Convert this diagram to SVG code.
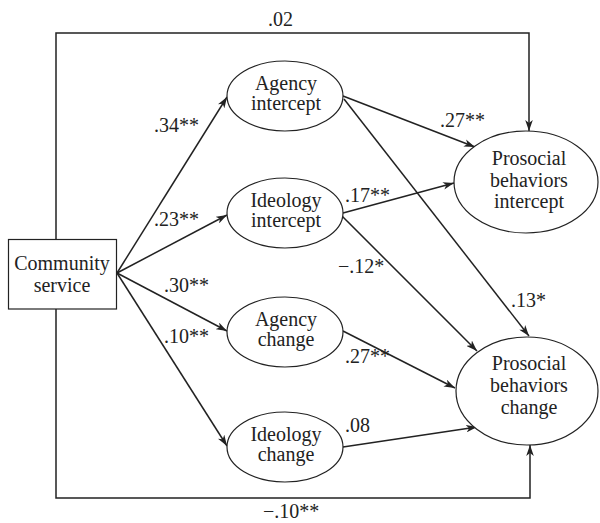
<svg xmlns="http://www.w3.org/2000/svg" width="600" height="523" viewBox="0 0 600 523">
<style>
svg text, text.t{font-family:'Liberation Serif',serif !important;font-size:20px;fill:#222}
.c{text-anchor:middle}
.n{fill:#fff;stroke:#222;stroke-width:1.2}
.e{fill:none;stroke:#222;stroke-width:1.5;marker-end:url(#ah)}
</style>
<defs>
<marker id="ah" viewBox="-11 -4 11 8" refX="0" refY="0" markerWidth="11" markerHeight="8" markerUnits="userSpaceOnUse" orient="auto">
<path d="M0,0 L-11,-3.8 L-8,0 L-11,3.8 Z" fill="#222"/>
</marker>
</defs>
<rect width="600" height="523" fill="#fff"/>
<g font-family="Liberation Serif">
<g id="connectors">
<polyline class="e" points="56,239 56,33 529,33 529,131"/>
<polyline class="e" points="56,309 56,498 530,498 530,445"/>
<line class="e" x1="117" y1="273" x2="227" y2="97"/>
<line class="e" x1="117" y1="273" x2="227" y2="215"/>
<line class="e" x1="117" y1="273" x2="227" y2="331"/>
<line class="e" x1="117" y1="273" x2="227" y2="446"/>
<line class="e" x1="343" y1="96" x2="475" y2="147"/>
<line class="e" x1="344" y1="99" x2="529" y2="336"/>
<line class="e" x1="343" y1="213" x2="454" y2="183"/>
<line class="e" x1="342" y1="216" x2="477" y2="351"/>
<line class="e" x1="343" y1="331" x2="455" y2="388"/>
<line class="e" x1="343" y1="447" x2="477" y2="427"/>
</g>
<g id="labels">
<text class="t" x="268" y="26">.02</text>
<text class="t" x="154" y="132">.34**</text>
<text class="t" x="154" y="226">.23**</text>
<text class="t" x="164" y="292">.30**</text>
<text class="t" x="164" y="343">.10**</text>
<text class="t" x="440" y="127">.27**</text>
<text class="t" x="345" y="202">.17**</text>
<text class="t" x="338" y="273">−.12*</text>
<text class="t" x="511" y="307">.13*</text>
<text class="t" x="345" y="363">.27**</text>
<text class="t" x="345" y="432">.08</text>
<text class="t" x="263" y="518">−.10**</text>
</g>
<g id="community-service">
<rect class="n" x="8.5" y="239.5" width="108" height="69.5"/>
<text class="t c" x="62" y="270">Community</text>
<text class="t c" x="62" y="292">service</text>
</g>
<g id="agency-intercept">
<ellipse class="n" cx="285" cy="96" rx="58" ry="35"/>
<text class="t c" x="286" y="90">Agency</text>
<text class="t c" x="286" y="110">intercept</text>
</g>
<g id="ideology-intercept">
<ellipse class="n" cx="285" cy="213" rx="58" ry="35"/>
<text class="t c" x="286" y="207">Ideology</text>
<text class="t c" x="286" y="227">intercept</text>
</g>
<g id="agency-change">
<ellipse class="n" cx="285" cy="332" rx="58" ry="35"/>
<text class="t c" x="286" y="326">Agency</text>
<text class="t c" x="286" y="346">change</text>
</g>
<g id="ideology-change">
<ellipse class="n" cx="285" cy="447" rx="58" ry="35"/>
<text class="t c" x="286" y="441">Ideology</text>
<text class="t c" x="286" y="461">change</text>
</g>
<g id="prosocial-intercept">
<ellipse class="n" cx="526" cy="182" rx="72" ry="51"/>
<text class="t c" x="529" y="165">Prosocial</text>
<text class="t c" x="529" y="187">behaviors</text>
<text class="t c" x="529" y="208">intercept</text>
</g>
<g id="prosocial-change">
<ellipse class="n" cx="527" cy="391" rx="71" ry="54"/>
<text class="t c" x="529" y="370">Prosocial</text>
<text class="t c" x="529" y="392">behaviors</text>
<text class="t c" x="529" y="414">change</text>
</g>
</g>
</svg>
